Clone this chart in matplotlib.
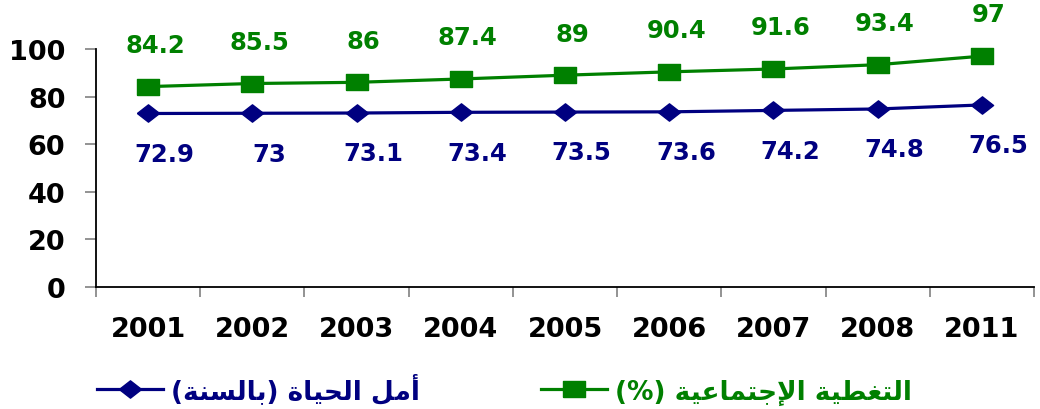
import matplotlib
matplotlib.use("Agg")
import matplotlib.pyplot as plt
import numpy as np
from matplotlib.ticker import FixedLocator

years = ["2001", "2002", "2003", "2004", "2005", "2006", "2007", "2008", "2011"]
esperance = [72.9, 73, 73.1, 73.4, 73.5, 73.6, 74.2, 74.8, 76.5]
couverture = [84.2, 85.5, 86, 87.4, 89, 90.4, 91.6, 93.4, 97]
lab_esperance = "أمل الحياة (بالسنة)"
lab_couverture = "التغطية الإجتماعية (%)"

bleu = "#000080"
vert = "#008000"

# mini mise en forme arabe (matplotlib ne fait pas le shaping)
FORMS = {
    "ا": ("\uFE8D", "\uFE8E"), "أ": ("\uFE83", "\uFE84"), "إ": ("\uFE87", "\uFE88"),
    "ة": ("\uFE93", "\uFE94"),
    "ب": ("\uFE8F", "\uFE90", "\uFE91", "\uFE92"), "ت": ("\uFE95", "\uFE96", "\uFE97", "\uFE98"),
    "ج": ("\uFE9D", "\uFE9E", "\uFE9F", "\uFEA0"), "ح": ("\uFEA1", "\uFEA2", "\uFEA3", "\uFEA4"),
    "س": ("\uFEB1", "\uFEB2", "\uFEB3", "\uFEB4"), "ط": ("\uFEC1", "\uFEC2", "\uFEC3", "\uFEC4"),
    "ع": ("\uFEC9", "\uFECA", "\uFECB", "\uFECC"), "غ": ("\uFECD", "\uFECE", "\uFECF", "\uFED0"),
    "ل": ("\uFEDD", "\uFEDE", "\uFEDF", "\uFEE0"), "م": ("\uFEE1", "\uFEE2", "\uFEE3", "\uFEE4"),
    "ن": ("\uFEE5", "\uFEE6", "\uFEE7", "\uFEE8"), "ي": ("\uFEF1", "\uFEF2", "\uFEF3", "\uFEF4"),
    "لا": ("\uFEFB", "\uFEFC"), "لأ": ("\uFEF7", "\uFEF8"), "لإ": ("\uFEF9", "\uFEFA"),
}

def shape(s):
    toks = []
    i = 0
    while i < len(s):
        if s[i] == "ل" and i + 1 < len(s) and s[i:i+2] in FORMS:
            toks.append(s[i:i+2]); i += 2
        else:
            toks.append(s[i]); i += 1
    out = []
    for k, t in enumerate(toks):
        f = FORMS.get(t)
        if f is None:
            out.append(t); continue
        prev = toks[k-1] if k > 0 else None
        nxt = toks[k+1] if k + 1 < len(toks) else None
        jp = prev in FORMS and len(FORMS[prev]) == 4
        jn = len(f) == 4 and nxt in FORMS
        if jp and jn: out.append(f[3])
        elif jp: out.append(f[1])
        elif jn: out.append(f[2])
        else: out.append(f[0])
    vis = "".join(reversed(out))
    return vis.translate(str.maketrans("()", ")("))

# marqueurs un peu etires (graphique d'origine etire en largeur)
carre = [(-1, -0.68), (1, -0.68), (1, 0.68), (-1, 0.68), (-1, -0.68)]
losange = [(-1, 0), (0, 0.78), (1, 0), (0, -0.78), (-1, 0)]

fig = plt.figure(figsize=(10.4, 4.1), dpi=100)
ax = fig.add_axes([96/1040, 1-288/410, 938/1040, 238/410])

x = np.arange(len(years))
ax.plot(x, esperance, color=bleu, lw=2.3, marker=losange, ms=16, label=shape(lab_esperance), clip_on=False, zorder=3)
ax.plot(x, couverture, color=vert, lw=2.3, marker=carre, ms=16, label=shape(lab_couverture), clip_on=False, zorder=3)

for xi, v in zip(x, couverture):
    ax.annotate(f"{v:g}", (xi, v), xytext=(5, 30), textcoords="offset points",
                ha="center", va="center", color=vert, fontsize=17.5, fontweight="bold",
                family="DejaVu Sans", annotation_clip=False)
for xi, v in zip(x, esperance):
    ax.annotate(f"{v:g}", (xi, v), xytext=(12, -29), textcoords="offset points",
                ha="center", va="center", color=bleu, fontsize=17.5, fontweight="bold",
                family="DejaVu Sans", annotation_clip=False)

ax.set_xlim(-0.5, len(years) - 0.5)
ax.set_ylim(0, 100)
ax.set_yticks(range(0, 101, 20))
ax.set_xticks(x)
ax.set_xticklabels(years)
ax.xaxis.set_minor_locator(FixedLocator(np.arange(-0.5, len(years), 1)))
ax.tick_params(axis="x", which="major", length=0, pad=21)
ax.tick_params(axis="x", which="minor", length=7, color="#808080", width=1.2)
ax.tick_params(axis="y", length=8, color="#808080", width=1.2, pad=14)
for lab in ax.get_xticklabels() + ax.get_yticklabels():
    lab.set_family("DejaVu Sans")
    lab.set_fontweight("bold")
    lab.set_fontsize(19.5)
ax.spines["top"].set_visible(False)
ax.spines["right"].set_visible(False)
ax.spines["left"].set_linewidth(1.3)
ax.spines["bottom"].set_linewidth(1.3)

leg = fig.legend(loc="center left", bbox_to_anchor=(97/1040, 1-390/410), ncol=2, frameon=False,
                 prop={"family": "DejaVu Sans", "weight": "bold", "size": 19},
                 handlelength=2.5, handletextpad=0.3, columnspacing=4.6,
                 borderpad=0, borderaxespad=0, labelcolor="linecolor")

fig.savefig("out.png", dpi=100)
